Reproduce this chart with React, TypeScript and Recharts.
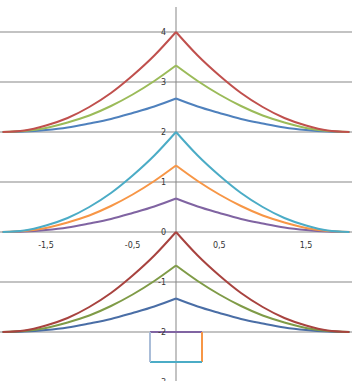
import React from 'react';
import { LineChart, Line, XAxis, YAxis, ReferenceLine, ReferenceDot } from 'recharts';

// x positions sampled along every curve
const xs = [-2, -1.75, -1.5, -1.25, -1, -0.75, -0.5, -0.25, 0, 0.25, 0.5, 0.75, 1, 1.25, 1.5, 1.75, 2];

// upper group (base 2)
const topRed = [2, 2.03, 2.13, 2.28, 2.5, 2.78, 3.13, 3.53, 4, 3.53, 3.13, 2.78, 2.5, 2.28, 2.13, 2.03, 2];
const topGreen = [2, 2.02, 2.08, 2.19, 2.33, 2.52, 2.75, 3.02, 3.33, 3.02, 2.75, 2.52, 2.33, 2.19, 2.08, 2.02, 2];
const topBlue = [2, 2.01, 2.04, 2.09, 2.17, 2.26, 2.38, 2.51, 2.67, 2.51, 2.38, 2.26, 2.17, 2.09, 2.04, 2.01, 2];

// middle group (base 0)
const midTeal = [0, 0.03, 0.13, 0.28, 0.5, 0.78, 1.13, 1.53, 2, 1.53, 1.13, 0.78, 0.5, 0.28, 0.13, 0.03, 0];
const midOrange = [0, 0.02, 0.08, 0.19, 0.33, 0.52, 0.75, 1.02, 1.33, 1.02, 0.75, 0.52, 0.33, 0.19, 0.08, 0.02, 0];
const midPurple = [0, 0.01, 0.04, 0.09, 0.17, 0.26, 0.38, 0.51, 0.67, 0.51, 0.38, 0.26, 0.17, 0.09, 0.04, 0.01, 0];

// lower group (base -2)
const lowRed = [-2, -1.97, -1.87, -1.72, -1.5, -1.22, -0.87, -0.47, 0, -0.47, -0.87, -1.22, -1.5, -1.72, -1.87, -1.97, -2];
const lowGreen = [-2, -1.98, -1.92, -1.81, -1.67, -1.48, -1.25, -0.98, -0.67, -0.98, -1.25, -1.48, -1.67, -1.81, -1.92, -1.98, -2];
const lowBlue = [-2, -1.99, -1.96, -1.91, -1.83, -1.74, -1.62, -1.49, -1.33, -1.49, -1.62, -1.74, -1.83, -1.91, -1.96, -1.99, -2];

// little box under the chart
const boxX = [-0.3, 0.3];
const boxY = [-2, -2.6];

const yTicks = [4, 3, 2, 1, 0, -1, -2, -3];
const xTickLabels = [-1.5, -0.5, 0.5, 1.5];

const curves = [
  { name: 'topBlue', values: topBlue, color: '#4f81bd' },
  { name: 'topGreen', values: topGreen, color: '#9bbb59' },
  { name: 'topRed', values: topRed, color: '#c0504d' },
  { name: 'midPurple', values: midPurple, color: '#8064a2' },
  { name: 'midOrange', values: midOrange, color: '#f79646' },
  { name: 'midTeal', values: midTeal, color: '#4bacc6' },
  { name: 'lowBlue', values: lowBlue, color: '#4a6ea6' },
  { name: 'lowGreen', values: lowGreen, color: '#7f9b47' },
  { name: 'lowRed', values: lowRed, color: '#a8433f' },
];

const mid = xs.indexOf(0);
const half = (values: number[], side: 'l' | 'r') => {
  const idx = xs.map((_, i) => i).filter((i) => (side === 'l' ? i <= mid : i >= mid));
  return idx.map((i) => ({ x: xs[i], y: values[i] }));
};

const boxSides = [
  { name: 'boxTop', color: '#8064a2', data: [{ x: boxX[0], y: boxY[0] }, { x: boxX[1], y: boxY[0] }] },
  { name: 'boxRight', color: '#f79646', data: [{ x: boxX[1], y: boxY[0] }, { x: boxX[1], y: boxY[1] }] },
  { name: 'boxBottom', color: '#4bacc6', data: [{ x: boxX[0], y: boxY[1] }, { x: boxX[1], y: boxY[1] }] },
  { name: 'boxLeft', color: '#aabdd8', data: [{ x: boxX[0], y: boxY[0] }, { x: boxX[0], y: boxY[1] }] },
];

const fmt = (v: number) => String(v).replace('.', ',');
const labelStyle = { fontSize: 8, fill: '#333', fontFamily: 'DejaVu Sans' };

export default function App() {
  return (
    <div style={{ position: 'absolute', left: 0, top: 0, width: 352, height: 381, background: '#fff' }}>
      <LineChart width={352} height={381} margin={{ top: 7, right: 0, bottom: -1, left: 0 }}>
        <XAxis type="number" dataKey="x" domain={[-2.03, 2.03]} hide allowDataOverflow />
        <YAxis type="number" dataKey="y" domain={[-3, 4.5]} hide allowDataOverflow />
        {yTicks.map((v) => (
          <ReferenceLine key={'g' + v} y={v} stroke="#878787" strokeWidth={1} />
        ))}
        <ReferenceLine x={0} stroke="#878787" strokeWidth={1} />
        {curves.map((c) =>
          (['l', 'r'] as const).map((s) => (
            <Line
              key={c.name + s}
              data={half(c.values, s)}
              dataKey="y"
              type="monotone"
              stroke={c.color}
              strokeWidth={2}
              dot={false}
              activeDot={false}
              isAnimationActive={false}
            />
          ))
        )}
        {boxSides.map((b) => (
          <Line
            key={b.name}
            data={b.data}
            dataKey="y"
            type="linear"
            stroke={b.color}
            strokeWidth={2}
            dot={false}
            activeDot={false}
            isAnimationActive={false}
          />
        ))}
        {yTicks.map((v) => (
          <ReferenceDot
            key={'yl' + v}
            x={0}
            y={v}
            r={0}
            stroke="none"
            fill="none"
            label={{ value: fmt(v), position: 'left', offset: 10, ...labelStyle }}
          />
        ))}
        {xTickLabels.map((v) => (
          <ReferenceDot
            key={'xl' + v}
            x={v}
            y={0}
            r={0}
            stroke="none"
            fill="none"
            label={{ value: fmt(v), position: 'bottom', offset: 10, ...labelStyle }}
          />
        ))}
      </LineChart>
    </div>
  );
}
